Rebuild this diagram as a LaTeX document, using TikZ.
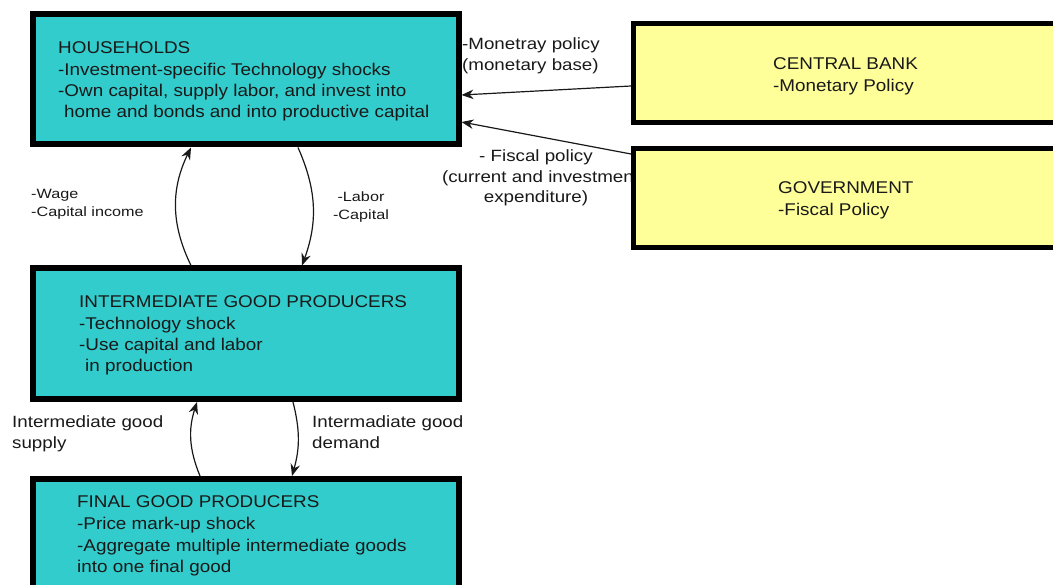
\documentclass[tikz,border=0pt]{standalone}
\usepackage{fontspec}
\usetikzlibrary{arrows.meta}
\newfontfamily\boxfont{Liberation Sans}[FakeStretch=1.11]
\newfontfamily\lblfont{Liberation Sans}[FakeStretch=1.15]
\newfontfamily\smlfont{Liberation Sans}[FakeStretch=1.2]
\definecolor{tealfill}{RGB}{51,204,204}
\definecolor{yelfill}{RGB}{255,255,153}
\definecolor{txt}{RGB}{25,25,25}
\newcommand\LftLines[1]{\vtop{\halign{##\hfil\cr#1\crcr}}}
\newcommand\CtrLines[1]{\vtop{\halign{\hfil##\hfil\cr#1\crcr}}}
\tikzset{
  tealbox/.style={draw=black, fill=tealfill, line width=6pt, inner sep=0pt, minimum width=425.5pt},
  yelbox/.style={draw=black, fill=yelfill, line width=5pt, inner sep=0pt, minimum width=426.5pt},
  boxtext/.style={inner sep=0pt, anchor=base west, text=txt, font=\boxfont\fontsize{17}{21.3}\selectfont},
  lbltext/.style={inner sep=0pt, text=txt, font=\lblfont\fontsize{16.3}{20.5}\selectfont},
  smltext/.style={inner sep=0pt, text=txt, font=\smlfont\fontsize{13.5}{18}\selectfont},
  flow/.style={draw=black!90, line width=1.2pt, -{Stealth[length=12pt,width=9.5pt]}}
}
\begin{document}
\begin{tikzpicture}[x=1pt,y=-1pt]
\useasboundingbox (0,0) rectangle (1053,585);
\clip (0,0) rectangle (1053,585);
\fill[white] (0,0) rectangle (1053,585);

% boxes
\node[tealbox, minimum height=130pt] (hh) at (245.75,79.5) {};
\node[tealbox, minimum height=130.5pt] (ig) at (245.75,333.75) {};
\node[tealbox, minimum height=130pt] (fg) at (245.75,544) {};
\node[yelbox, minimum height=99pt] (cb) at (846.75,73) {};

% fiscal label (drawn before the government box, which covers its end)
\node[lbltext, anchor=base] (fisc) at (536,162) {\CtrLines{- Fiscal policy\cr \hskip9pt(current and investment\cr expenditure)}};
\node[yelbox, minimum height=99.5pt] (gov) at (846.75,198.25) {};

% box texts
\node[boxtext] (hht) at (58,54) {\LftLines{HOUSEHOLDS\cr -Investment-specific Technology shocks\cr -Own capital, supply labor, and invest into\cr \hskip6pt home and bonds and into productive capital}};
\node[boxtext] (igt) at (79,308) {\LftLines{INTERMEDIATE GOOD PRODUCERS\cr -Technology shock\cr -Use capital and labor\cr \hskip6pt in production}};
\node[boxtext, font=\boxfont\fontsize{17}{22}\selectfont] (fgt) at (77,507) {\LftLines{FINAL GOOD PRODUCERS\cr -Price mark-up shock\cr -Aggregate multiple intermediate goods\cr into one final good}};
\node[boxtext] (cbt) at (773,70) {\LftLines{CENTRAL BANK\cr -Monetary Policy}};
\node[boxtext, font=\boxfont\fontsize{17}{22}\selectfont] (govt) at (778,194) {\LftLines{GOVERNMENT\cr -Fiscal Policy}};

% labels
\node[lbltext, anchor=base west] (mon) at (462,50) {\LftLines{-Monetray policy\cr (monetary base)}};
\node[smltext, anchor=base west] (wage) at (31,199) {\LftLines{-Wage\cr -Capital income}};
\node[smltext, anchor=base] (labor) at (361,202) {\CtrLines{-Labor\cr -Capital}};
\node[lbltext, anchor=base west, font=\lblfont\fontsize{16.3}{21}\selectfont] (sup) at (12,428) {\LftLines{Intermediate good\cr supply}};
\node[lbltext, anchor=base west, font=\lblfont\fontsize{16.3}{21}\selectfont] (dem) at (312,428) {\LftLines{Intermadiate good\cr demand}};

% connectors
\draw[flow] ([yshift=-13pt]cb.west) -- ([yshift=-15.5pt]hh.east);
\draw[flow] ([yshift=-8pt]gov.north west) -- ([yshift=-42.5pt]hh.east);
\draw[flow] ([xshift=-54.75pt]ig.north) to[bend left=26] ([xshift=-54.75pt]hh.south);
\draw[flow] ([xshift=52.25pt]hh.south) to[bend left=22] ([xshift=56.25pt]ig.north);
\draw[flow] ([xshift=-45.75pt]fg.north) to[bend left=20] ([xshift=-48.75pt]ig.south);
\draw[flow] ([xshift=47.25pt]ig.south) to[bend left=15] ([xshift=46.25pt]fg.north);
\end{tikzpicture}
\end{document}
